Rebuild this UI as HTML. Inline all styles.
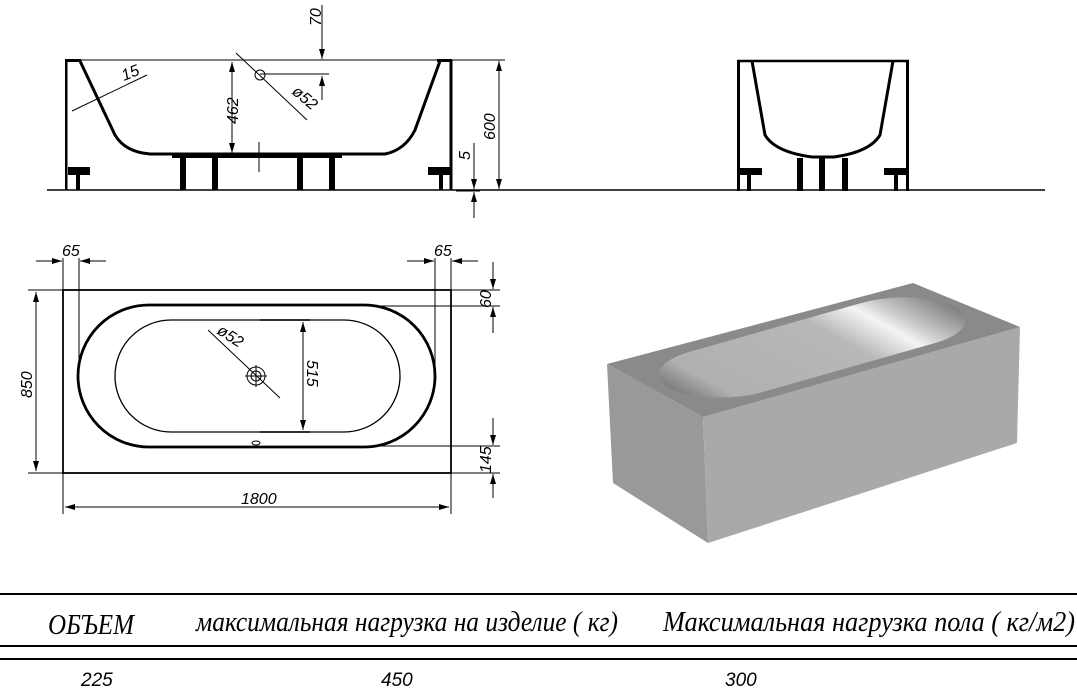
<!DOCTYPE html>
<html><head><meta charset="utf-8"><style>
html,body{margin:0;padding:0;background:#fff;}
svg{display:block;}
.d{font-family:"Liberation Sans",sans-serif;font-style:italic;font-size:16px;fill:#000;}
.t{font-family:"Liberation Serif","Noto Serif CJK SC",serif;font-style:italic;font-size:28px;fill:#000;}
.v{font-family:"Liberation Sans",sans-serif;font-style:italic;font-size:19px;fill:#000;}
</style></head><body>
<svg width="1077" height="697" viewBox="0 0 1077 697" xmlns="http://www.w3.org/2000/svg">
<defs>
<marker id="a" viewBox="0 0 10 6" refX="10" refY="3" markerWidth="10" markerHeight="6" orient="auto-start-reverse" markerUnits="userSpaceOnUse"><path d="M0,0 L10,3 L0,6z" fill="#000"/></marker>
<linearGradient id="g" x1="0" y1="0" x2="1" y2="0">
<stop offset="0" stop-color="#7e7e7e"/><stop offset="0.12" stop-color="#b0b0b0"/><stop offset="0.6" stop-color="#b8b8b8"/><stop offset="0.76" stop-color="#f4f4f4"/><stop offset="0.84" stop-color="#c8c8c8"/><stop offset="1" stop-color="#808080"/>
</linearGradient>
</defs>
<g stroke="#000" fill="none">
<line x1="47" y1="190" x2="1045" y2="190" stroke-width="1.5"/>
<line x1="65" y1="60" x2="505" y2="60" stroke-width="1"/>
<rect x="65" y="60" width="2.5" height="130" fill="#000" stroke="none"/>
<rect x="449.5" y="60" width="3" height="130" fill="#000" stroke="none"/>
<rect x="65" y="59" width="16" height="3" fill="#000" stroke="none"/>
<rect x="437" y="59" width="15" height="3" fill="#000" stroke="none"/>
<path d="M80,61 L115,135 Q125,152 150,154 L385,154 Q405,150 415,130 L440,61" stroke-width="3"/>
<rect x="68" y="167" width="22" height="8" fill="#000" stroke="none"/>
<rect x="428" y="167" width="22" height="8" fill="#000" stroke="none"/>
<g fill="#000" stroke="none">
<rect x="76" y="175" width="4" height="15"/><rect x="439" y="175" width="4" height="15"/>
<rect x="180" y="158" width="6" height="32"/><rect x="212" y="158" width="6" height="32"/><rect x="297" y="158" width="6" height="32"/><rect x="329" y="158" width="6" height="32"/>
<rect x="172" y="155" width="170" height="3"/>
</g>
<line x1="259" y1="142" x2="259" y2="172"/>
<line x1="232" y1="62" x2="232" y2="153" marker-start="url(#a)" marker-end="url(#a)"/>
<line x1="499" y1="61" x2="499" y2="189" marker-start="url(#a)" marker-end="url(#a)"/>
<line x1="322" y1="5" x2="322" y2="59" marker-end="url(#a)"/>
<line x1="322" y1="100" x2="322" y2="76" marker-end="url(#a)"/>
<line x1="260" y1="74" x2="329" y2="74"/>
<line x1="474" y1="143" x2="474" y2="189" marker-end="url(#a)"/>
<line x1="474" y1="218" x2="474" y2="192" marker-end="url(#a)"/>
<line x1="456" y1="191" x2="480" y2="191"/>
<line x1="236" y1="53" x2="307" y2="120"/>
<circle cx="260" cy="75" r="5"/>
<line x1="72" y1="111" x2="147" y2="75"/>
<rect x="737" y="61" width="3" height="130" fill="#000" stroke="none"/>
<rect x="906" y="61" width="3" height="130" fill="#000" stroke="none"/>
<line x1="737" y1="61" x2="909" y2="61" stroke-width="2.5"/>
<path d="M752,61 L765,135 Q775,152 812,157 L834,157 Q870,152 880,135 L893,61" stroke-width="3"/>
<rect x="740" y="168" width="22" height="7" fill="#000" stroke="none"/>
<rect x="884" y="168" width="22" height="7" fill="#000" stroke="none"/>
<g fill="#000" stroke="none">
<rect x="747" y="175" width="4" height="16"/><rect x="894" y="175" width="4" height="16"/>
<rect x="797" y="158" width="6" height="33"/><rect x="819" y="158" width="6" height="33"/><rect x="842" y="158" width="6" height="33"/>
</g>
<rect x="63" y="290" width="388" height="183" stroke-width="1.8"/>
<rect x="78" y="305" width="357" height="142" rx="71" ry="71" stroke-width="2.8"/>
<rect x="115" y="320" width="285" height="112" rx="56" ry="56" stroke-width="1.3"/>
<line x1="28" y1="290" x2="63" y2="290"/><line x1="28" y1="473" x2="63" y2="473"/>
<line x1="36" y1="292" x2="36" y2="471" marker-start="url(#a)" marker-end="url(#a)"/>
<line x1="63" y1="473" x2="63" y2="514"/><line x1="451" y1="473" x2="451" y2="514"/>
<line x1="65" y1="507" x2="449" y2="507" marker-start="url(#a)" marker-end="url(#a)"/>
<line x1="63" y1="258" x2="63" y2="290"/><line x1="79" y1="258" x2="79" y2="360"/>
<line x1="36" y1="261" x2="62" y2="261" marker-end="url(#a)"/><line x1="106" y1="261" x2="80" y2="261" marker-end="url(#a)"/>
<line x1="435" y1="258" x2="435" y2="375"/><line x1="451" y1="258" x2="451" y2="290"/>
<line x1="407" y1="261" x2="434" y2="261" marker-end="url(#a)"/><line x1="478" y1="261" x2="452" y2="261" marker-end="url(#a)"/>
<line x1="451" y1="290" x2="500" y2="290"/><line x1="380" y1="306" x2="500" y2="306"/>
<line x1="493" y1="262" x2="493" y2="289" marker-end="url(#a)"/><line x1="493" y1="333" x2="493" y2="307" marker-end="url(#a)"/>
<line x1="380" y1="446" x2="500" y2="446"/><line x1="451" y1="473" x2="500" y2="473"/>
<line x1="493" y1="418" x2="493" y2="445" marker-end="url(#a)"/><line x1="493" y1="498" x2="493" y2="474" marker-end="url(#a)"/>
<line x1="303" y1="322" x2="303" y2="430" marker-start="url(#a)" marker-end="url(#a)"/>
<line x1="260" y1="320" x2="310" y2="320" stroke-width="1.5"/><line x1="260" y1="432" x2="310" y2="432" stroke-width="1.5"/>
<line x1="208" y1="330" x2="280" y2="398"/>
<circle cx="256" cy="376" r="9"/><circle cx="256" cy="376" r="5"/>
<line x1="245" y1="376" x2="267" y2="376"/><line x1="256" y1="365" x2="256" y2="387"/>
<ellipse cx="256" cy="443" rx="4" ry="2"/>
</g>
<g class="d">
<text x="0" y="0" transform="translate(238,124) rotate(-90)">462</text>
<text x="0" y="0" transform="translate(495,140) rotate(-90)">600</text>
<text x="0" y="0" transform="translate(321,26) rotate(-90)">70</text>
<text x="0" y="0" transform="translate(470,160) rotate(-90)">5</text>
<text x="0" y="0" transform="translate(124,81) rotate(-22)">15</text>
<text x="0" y="0" transform="translate(291,93) rotate(40)">ø52</text>
<text x="62" y="256">65</text>
<text x="434" y="256">65</text>
<text x="0" y="0" transform="translate(32,398) rotate(-90)">850</text>
<text x="241" y="504">1800</text>
<text x="0" y="0" transform="translate(491,308) rotate(-90)">60</text>
<text x="0" y="0" transform="translate(491,473) rotate(-90)">145</text>
<text x="0" y="0" transform="translate(307,360) rotate(90)">515</text>
<text x="0" y="0" transform="translate(216,333) rotate(33)">ø52</text>
</g>
<polygon points="607,364 703,417 708,543 613,483" fill="#999"/>
<polygon points="703,417 1020,327 1017,443 708,543" fill="#a9a9a9"/>
<polygon points="607,364 913,283 1020,327 703,417" fill="#8a8a8a"/>
<g transform="matrix(317,-90,-96,-53,703,417)">
<rect x="0.04" y="0.1" width="0.9" height="0.76" rx="0.18" ry="0.38" fill="url(#g)"/>
</g>
<line x1="0" y1="594" x2="1077" y2="594" stroke="#000" stroke-width="2"/>
<line x1="0" y1="646" x2="1077" y2="646" stroke="#000" stroke-width="2"/>
<line x1="0" y1="659" x2="1077" y2="659" stroke="#000" stroke-width="2"/>
<text class="t" x="48" y="634" textLength="86" lengthAdjust="spacingAndGlyphs">ОБЪЕМ</text>
<text class="t" x="196" y="631" textLength="422" lengthAdjust="spacingAndGlyphs">максимальная нагрузка на изделие ( кг)</text>
<text class="t" x="663" y="631" textLength="412" lengthAdjust="spacingAndGlyphs">Максимальная нагрузка пола ( кг/м2)</text>
<text class="v" x="81" y="686">225</text>
<text class="v" x="381" y="686">450</text>
<text class="v" x="725" y="686">300</text>
</svg>
</body></html>
